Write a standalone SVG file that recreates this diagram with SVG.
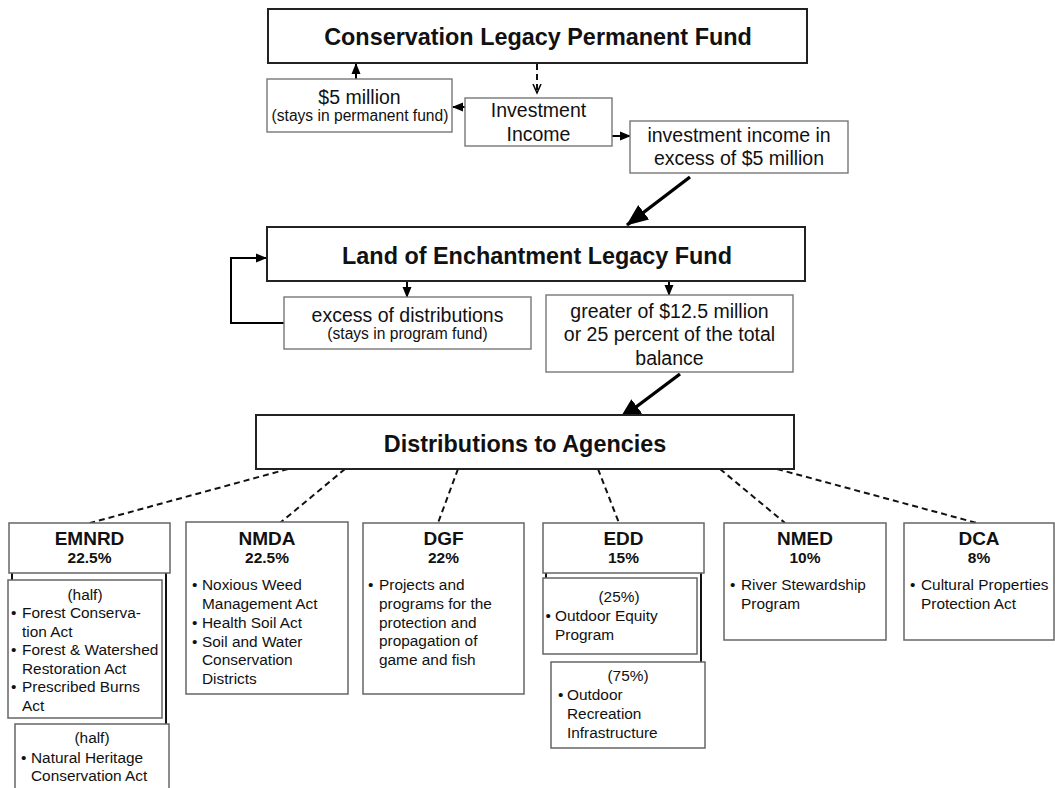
<svg xmlns="http://www.w3.org/2000/svg" width="1055" height="788" viewBox="0 0 1055 788">
<defs>
<style>
text{font-family:"Liberation Sans",Arial,sans-serif;fill:#111}
.title{font-size:23.4px;font-weight:bold;text-anchor:middle}
.mid{font-size:19.5px;text-anchor:middle}
.sm{font-size:15.6px;text-anchor:middle}
.hd{font-size:19px;font-weight:bold;text-anchor:middle}
.pc{font-size:15.5px;font-weight:bold;text-anchor:middle}
.b{font-size:15.4px}
.bc{font-size:15.4px;text-anchor:middle}
.major{fill:#fff;stroke:#222;stroke-width:2}
.minor{fill:#fff;stroke:#777;stroke-width:1.4}
.ag{fill:#fff;stroke:#666;stroke-width:1.5}
.arr{fill:none;stroke:#000;stroke-width:2}
.thick{fill:none;stroke:#000;stroke-width:3.4}
.dash{fill:none;stroke:#111;stroke-width:2;stroke-dasharray:6 4}
.bar{stroke:#111;stroke-width:2;fill:none}
</style>
<marker id="ah" markerUnits="userSpaceOnUse" markerWidth="12" markerHeight="10" refX="10" refY="5" orient="auto"><path d="M0,0.5 L11,5 L0,9.5 z" fill="#000"/></marker>
<marker id="big" markerUnits="userSpaceOnUse" markerWidth="24" markerHeight="20" refX="21" refY="10" orient="auto"><path d="M0,1 L22,10 L0,19 z" fill="#000"/></marker>
<marker id="open" markerUnits="userSpaceOnUse" markerWidth="12" markerHeight="12" refX="9" refY="5" orient="auto"><path d="M0,1 L9,5 L0,9" fill="none" stroke="#000" stroke-width="1.5"/></marker>
</defs>

<g id="connectors">
<line class="arr" x1="356" y1="79" x2="356" y2="64" marker-end="url(#ah)"/>
<line class="dash" x1="537" y1="64" x2="537" y2="93" stroke-width="1.6" stroke-dasharray="5 3" marker-end="url(#open)"/>
<line class="arr" x1="465" y1="107" x2="453" y2="107" marker-end="url(#ah)"/>
<line class="arr" x1="612" y1="136" x2="630" y2="136" marker-end="url(#ah)"/>
<line class="thick" x1="690" y1="177" x2="627" y2="225" marker-end="url(#big)"/>
<polyline class="arr" points="284,323 231,323 231,258 266,258" marker-end="url(#ah)"/>
<line class="arr" x1="407" y1="281" x2="407" y2="297" marker-end="url(#ah)"/>
<line class="arr" x1="669" y1="281" x2="669" y2="295" marker-end="url(#ah)"/>
<line class="thick" x1="680" y1="374" x2="620" y2="419" marker-end="url(#big)"/>
<line class="dash" x1="288" y1="469" x2="90" y2="523"/>
<line class="dash" x1="345" y1="469" x2="280" y2="523"/>
<line class="dash" x1="458" y1="469" x2="438" y2="523"/>
<line class="dash" x1="598" y1="469" x2="619" y2="523"/>
<line class="dash" x1="720" y1="469" x2="785" y2="523"/>
<line class="dash" x1="777" y1="469" x2="977" y2="523"/>
</g>

<g id="permanent-fund">
<rect class="major" x="268" y="9" width="539" height="54"/>
<text class="title" x="538" y="45">Conservation Legacy Permanent Fund</text>
</g>

<g id="five-million">
<rect class="minor" x="267" y="79" width="185" height="53"/>
<text class="mid" x="359.5" y="104">$5 million</text>
<text class="sm" x="360" y="121">(stays in permanent fund)</text>
</g>

<g id="investment-income">
<rect class="minor" x="465" y="98" width="147" height="48"/>
<text class="mid" x="538.5" y="117">Investment</text>
<text class="mid" x="538.5" y="141">Income</text>
</g>

<g id="excess-income">
<rect class="minor" x="630" y="121" width="218" height="52"/>
<text class="mid" x="739" y="142">investment income in</text>
<text class="mid" x="739" y="165">excess of $5 million</text>
</g>

<g id="legacy-fund">
<rect class="major" x="267" y="227" width="538" height="54"/>
<text class="title" x="537" y="264">Land of Enchantment Legacy Fund</text>
</g>

<g id="excess-distributions">
<rect class="minor" x="284" y="297" width="247" height="52"/>
<text class="mid" x="407.5" y="322">excess of distributions</text>
<text class="sm" x="407.5" y="339">(stays in program fund)</text>
</g>

<g id="greater">
<rect class="minor" x="546" y="295" width="247" height="77"/>
<text class="mid" x="669.5" y="318">greater of $12.5 million</text>
<text class="mid" x="669.5" y="341">or 25 percent of the total</text>
<text class="mid" x="669.5" y="365">balance</text>
</g>

<g id="distributions">
<rect class="major" x="256" y="415" width="538" height="54"/>
<text class="title" x="525" y="452">Distributions to Agencies</text>
</g>

<g id="emnrd">
<line class="bar" x1="12" y1="573" x2="12" y2="580"/>
<line class="bar" x1="166" y1="573" x2="166" y2="724"/>
<rect class="ag" x="9" y="523" width="161" height="50"/>
<text class="hd" x="89.5" y="545">EMNRD</text>
<text class="pc" x="89.5" y="562.5">22.5%</text>
<rect class="ag" x="8" y="580" width="154" height="138"/>
<text class="bc" x="85" y="600">(half)</text>
<text class="b" y="618"><tspan x="11">•</tspan><tspan x="22">Forest Conserva-</tspan></text>
<text class="b" x="22" y="636.5">tion Act</text>
<text class="b" y="655"><tspan x="11">•</tspan><tspan x="22">Forest &amp; Watershed</tspan></text>
<text class="b" x="22" y="673.5">Restoration Act</text>
<text class="b" y="692"><tspan x="11">•</tspan><tspan x="22">Prescribed Burns</tspan></text>
<text class="b" x="22" y="710.5">Act</text>
<rect class="ag" x="15" y="724" width="154" height="70"/>
<text class="bc" x="92" y="743">(half)</text>
<text class="b" y="763"><tspan x="21">•</tspan><tspan x="31">Natural Heritage</tspan></text>
<text class="b" x="31" y="781">Conservation Act</text>
</g>

<g id="nmda">
<rect class="ag" x="186" y="522" width="162" height="172"/>
<text class="hd" x="267" y="545">NMDA</text>
<text class="pc" x="267" y="562.5">22.5%</text>
<text class="b" y="590"><tspan x="192">•</tspan><tspan x="202">Noxious Weed</tspan></text>
<text class="b" x="202" y="609">Management Act</text>
<text class="b" y="628"><tspan x="192">•</tspan><tspan x="202">Health Soil Act</tspan></text>
<text class="b" y="647"><tspan x="192">•</tspan><tspan x="202">Soil and Water</tspan></text>
<text class="b" x="202" y="665">Conservation</text>
<text class="b" x="202" y="684">Districts</text>
</g>

<g id="dgf">
<rect class="ag" x="363" y="523" width="161" height="171"/>
<text class="hd" x="443.5" y="545">DGF</text>
<text class="pc" x="443.5" y="562.5">22%</text>
<text class="b" y="590"><tspan x="368">•</tspan><tspan x="379">Projects and</tspan></text>
<text class="b" x="379" y="609">programs for the</text>
<text class="b" x="379" y="627.5">protection and</text>
<text class="b" x="379" y="646">propagation of</text>
<text class="b" x="379" y="665">game and fish</text>
</g>

<g id="edd">
<line class="bar" x1="546" y1="573" x2="546" y2="578"/>
<line class="bar" x1="701" y1="573" x2="701" y2="662"/>
<rect class="ag" x="543" y="523" width="161" height="50"/>
<text class="hd" x="623.5" y="545">EDD</text>
<text class="pc" x="623.5" y="562.5">15%</text>
<rect class="ag" x="543" y="578" width="154" height="76"/>
<text class="bc" x="619" y="602">(25%)</text>
<text class="b" y="621"><tspan x="545.5">•</tspan><tspan x="555">Outdoor Equity</tspan></text>
<text class="b" x="555" y="640">Program</text>
<rect class="ag" x="551" y="662" width="154" height="86"/>
<text class="bc" x="628" y="681">(75%)</text>
<text class="b" y="700"><tspan x="558">•</tspan><tspan x="567">Outdoor</tspan></text>
<text class="b" x="567" y="719">Recreation</text>
<text class="b" x="567" y="738">Infrastructure</text>
</g>

<g id="nmed">
<rect class="ag" x="724" y="523" width="162" height="117"/>
<text class="hd" x="805" y="545">NMED</text>
<text class="pc" x="805" y="562.5">10%</text>
<text class="b" y="590"><tspan x="730">•</tspan><tspan x="741">River Stewardship</tspan></text>
<text class="b" x="741" y="609">Program</text>
</g>

<g id="dca">
<rect class="ag" x="904" y="523" width="150" height="117"/>
<text class="hd" x="979" y="545">DCA</text>
<text class="pc" x="979" y="562.5">8%</text>
<text class="b" y="590"><tspan x="910">•</tspan><tspan x="921">Cultural Properties</tspan></text>
<text class="b" x="921" y="609">Protection Act</text>
</g>
</svg>
